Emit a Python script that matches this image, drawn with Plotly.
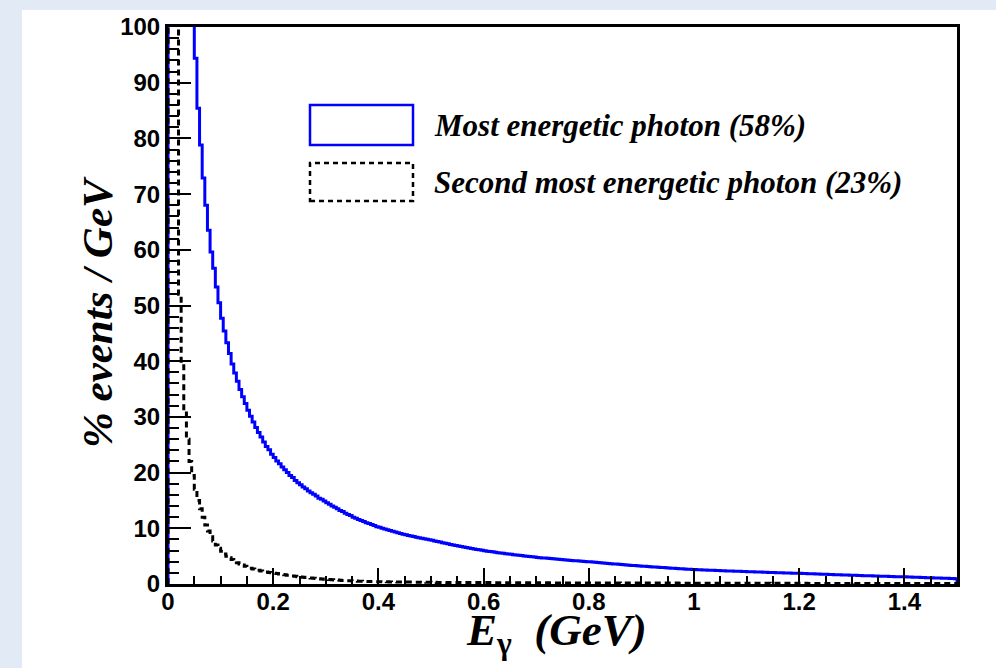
import plotly.graph_objects as go

# ---------------- data ----------------
E_MIN = 0.0
E_MAX = 1.5
N_BINS = 300  # bin width 0.005 GeV

series_names = ["Most energetic photon (58%)", "Second most energetic photon (23%)"]

# % events / GeV, first photon (bins above 100 are off-scale)
most_energetic = [
    4000, 1500, 700, 400, 260, 190, 150, 128, 114, 103,
    94.4, 85.4, 78.8, 72.9, 68.0, 63.5, 59.6, 56.7, 53.3, 50.5,
    47.7, 45.4, 43.3, 41.4, 39.5, 37.9, 36.4, 34.9, 33.6, 32.4,
    31.2, 30.1, 29.1, 28.1, 27.2, 26.4, 25.5, 24.7, 24.1, 23.3,
    22.7, 22.1, 21.6, 21.0, 20.5, 20.0, 19.5, 19.1, 18.6, 18.2,
    17.8, 17.4, 17.1, 16.7, 16.4, 16.1, 15.8, 15.4, 15.2, 14.9,
    14.6, 14.3, 14.0, 13.8, 13.5, 13.2, 13.0, 12.7, 12.5, 12.3,
    12.0, 11.8, 11.6, 11.4, 11.2, 11.0, 10.85, 10.7, 10.5, 10.3,
    10.2, 10.0, 9.87, 9.72, 9.59, 9.45, 9.32, 9.19, 9.06, 8.94,
    8.84, 8.72, 8.61, 8.51, 8.40, 8.31, 8.21, 8.12, 8.02, 7.94,
    7.84, 7.72, 7.61, 7.52, 7.41, 7.32, 7.21, 7.11, 7.00, 6.92,
    6.82, 6.73, 6.65, 6.55, 6.46, 6.37, 6.28, 6.21, 6.13, 6.04,
    5.97, 5.89, 5.83, 5.77, 5.70, 5.63, 5.57, 5.51, 5.45, 5.39,
    5.32, 5.26, 5.21, 5.15, 5.10, 5.03, 4.98, 4.93, 4.88, 4.83,
    4.78, 4.73, 4.69, 4.65, 4.61, 4.56, 4.52, 4.47, 4.43, 4.39,
    4.36, 4.32, 4.28, 4.23, 4.19, 4.17, 4.13, 4.09, 4.05, 4.01,
    3.99, 3.94, 3.89, 3.85, 3.81, 3.77, 3.72, 3.69, 3.64, 3.61,
    3.57, 3.53, 3.49, 3.46, 3.42, 3.38, 3.34, 3.31, 3.27, 3.24,
    3.20, 3.17, 3.13, 3.11, 3.07, 3.04, 3.00, 2.98, 2.94, 2.91,
    2.88, 2.85, 2.82, 2.79, 2.76, 2.73, 2.70, 2.67, 2.64, 2.62,
    2.59, 2.57, 2.55, 2.53, 2.51, 2.49, 2.47, 2.45, 2.44, 2.42,
    2.39, 2.37, 2.35, 2.34, 2.32, 2.30, 2.28, 2.27, 2.25, 2.23,
    2.21, 2.20, 2.18, 2.17, 2.15, 2.14, 2.12, 2.10, 2.08, 2.07,
    2.06, 2.04, 2.02, 2.00, 1.99, 1.98, 1.96, 1.95, 1.94, 1.92,
    1.91, 1.90, 1.87, 1.86, 1.84, 1.82, 1.80, 1.79, 1.77, 1.75,
    1.73, 1.72, 1.70, 1.68, 1.67, 1.64, 1.63, 1.62, 1.60, 1.58,
    1.57, 1.55, 1.53, 1.52, 1.50, 1.48, 1.47, 1.46, 1.45, 1.42,
    1.41, 1.40, 1.38, 1.37, 1.36, 1.34, 1.32, 1.31, 1.30, 1.29,
    1.28, 1.26, 1.24, 1.22, 1.20, 1.19, 1.17, 1.15, 1.14, 1.12,
    1.10, 1.09, 1.07, 1.06, 1.04, 1.02, 1.01, 0.99, 0.98, 0.96,
]

# % events / GeV, second photon
second_energetic = [
    2600, 1100, 420, 120, 52, 40, 31, 26, 22, 19.5,
    17.0, 15.0, 13.5, 12.0, 10.6, 9.5, 8.5, 7.7, 7.0, 6.4,
    5.9, 5.4, 5.0, 4.7, 4.4, 4.1, 3.8, 3.6, 3.4, 3.2,
    3.0, 2.85, 2.7, 2.55, 2.45, 2.35, 2.25, 2.15, 2.05, 2.0,
    1.95, 1.87, 1.79, 1.72, 1.65, 1.58, 1.51, 1.44, 1.38, 1.31,
    1.25, 1.2, 1.15, 1.1, 1.06, 1.02, 0.98, 0.94, 0.9, 0.87,
    0.84, 0.8, 0.77, 0.74, 0.71, 0.68, 0.65, 0.62, 0.6, 0.57,
    0.55, 0.53, 0.51, 0.5, 0.48, 0.47, 0.45, 0.44, 0.42, 0.41,
    0.4, 0.395, 0.39, 0.385, 0.38, 0.375, 0.37, 0.365, 0.36, 0.355,
    0.35, 0.345, 0.34, 0.335, 0.33, 0.325, 0.32, 0.315, 0.31, 0.305,
    0.30, 0.30, 0.29, 0.29, 0.29, 0.29, 0.28, 0.28, 0.28, 0.28,
    0.27, 0.27, 0.27, 0.27, 0.26, 0.26, 0.26, 0.26, 0.25, 0.25,
    0.25, 0.25, 0.25, 0.24, 0.24, 0.24, 0.24, 0.24, 0.23, 0.23,
    0.23, 0.23, 0.23, 0.22, 0.22, 0.22, 0.22, 0.22, 0.22, 0.21,
    0.21, 0.21, 0.21, 0.21, 0.21, 0.20, 0.20, 0.20, 0.20, 0.20,
    0.20, 0.20, 0.19, 0.19, 0.19, 0.19, 0.19, 0.19, 0.19, 0.19,
    0.19, 0.18, 0.18, 0.18, 0.18, 0.18, 0.18, 0.18, 0.18, 0.18,
    0.18, 0.18, 0.17, 0.17, 0.17, 0.17, 0.17, 0.17, 0.17, 0.17,
    0.17, 0.17, 0.17, 0.16, 0.16, 0.16, 0.16, 0.16, 0.16, 0.16,
    0.16, 0.16, 0.16, 0.16, 0.15, 0.15, 0.15, 0.15, 0.15, 0.15,
    0.15, 0.15, 0.15, 0.15, 0.15, 0.14, 0.14, 0.14, 0.14, 0.14,
    0.14, 0.14, 0.14, 0.14, 0.14, 0.14, 0.14, 0.13, 0.13, 0.13,
    0.13, 0.13, 0.13, 0.13, 0.13, 0.13, 0.13, 0.13, 0.13, 0.12,
    0.12, 0.12, 0.12, 0.12, 0.12, 0.12, 0.12, 0.12, 0.12, 0.12,
    0.12, 0.12, 0.12, 0.11, 0.11, 0.11, 0.11, 0.11, 0.11, 0.11,
    0.11, 0.11, 0.11, 0.11, 0.11, 0.11, 0.11, 0.11, 0.11, 0.11,
    0.11, 0.10, 0.10, 0.10, 0.10, 0.10, 0.10, 0.10, 0.10, 0.10,
    0.10, 0.10, 0.10, 0.10, 0.10, 0.10, 0.10, 0.10, 0.10, 0.10,
    0.10, 0.10, 0.10, 0.09, 0.09, 0.09, 0.09, 0.09, 0.09, 0.09,
    0.09, 0.09, 0.09, 0.09, 0.09, 0.09, 0.09, 0.09, 0.09, 0.09,
]

x_tick_vals = [0, 0.2, 0.4, 0.6, 0.8, 1.0, 1.2, 1.4]
x_tick_text = ["0", "0.2", "0.4", "0.6", "0.8", "1", "1.2", "1.4"]
y_tick_vals = [0, 10, 20, 30, 40, 50, 60, 70, 80, 90, 100]
y_tick_text = [str(v) for v in y_tick_vals]

# ---------------- build histogram outlines ----------------
bin_w = (E_MAX - E_MIN) / N_BINS
edges = [E_MIN + i * bin_w for i in range(N_BINS)]


def outline(vals):
    xs = [E_MIN] + edges + [E_MAX, E_MAX]
    ys = [0] + list(vals) + [vals[-1], 0]
    return xs, ys


fig = go.Figure()

bx, by = outline(most_energetic)
fig.add_trace(go.Scatter(x=bx, y=by, mode="lines", line_shape="hv",
                         line=dict(color="#0000ff", width=3),
                         name=series_names[0], showlegend=False))
sx, sy = outline(second_energetic)
fig.add_trace(go.Scatter(x=sx, y=sy, mode="lines", line_shape="hv",
                         line=dict(color="black", width=3, dash="6px,4px"),
                         name=series_names[1], showlegend=False))

# pixel geometry helpers
L, R, T, B = 168, 957, 27, 584
W, H = 996, 668


def px(X):
    return (X - L) / (R - L)


def py(Y):
    return (B - Y) / (B - T)


tick_font = dict(family="Liberation Sans, Arial, sans-serif", size=24,
                 color="black", weight="bold")

fig.update_layout(
    width=W, height=H,
    margin=dict(l=L, r=W - R, t=T, b=H - B, pad=0),
    paper_bgcolor="#e1eaf5",
    plot_bgcolor="white",
    showlegend=False,
    xaxis=dict(range=[E_MIN, E_MAX], showgrid=False, zeroline=False,
               showline=True, linecolor="black", linewidth=3, mirror=True,
               ticks="inside", ticklen=16, tickwidth=1.5, tickcolor="black",
               tickvals=x_tick_vals, ticktext=x_tick_text, tickfont=tick_font,
               ticklabelstandoff=-6,
               minor=dict(dtick=0.05, tick0=0, ticks="inside", ticklen=8,
                          tickwidth=1.5, tickcolor="black")),
    yaxis=dict(range=[0, 100], showgrid=False, zeroline=False,
               showline=True, linecolor="black", linewidth=3, mirror=True,
               ticks="inside", ticklen=23, tickwidth=1.5, tickcolor="black",
               tickvals=y_tick_vals, ticktext=y_tick_text, tickfont=tick_font,
               minor=dict(dtick=2, tick0=0, ticks="inside", ticklen=11,
                          tickwidth=1.5, tickcolor="black")),
)

# white canvas panel
fig.add_shape(type="rect", xref="paper", yref="paper", layer="below",
              x0=px(22), x1=px(1010), y0=py(680), y1=py(10),
              fillcolor="white", line=dict(width=0))

# legend boxes
fig.add_shape(type="rect", xref="paper", yref="paper",
              x0=px(310), x1=px(413), y0=py(145), y1=py(105),
              line=dict(color="#0000ff", width=2.5), fillcolor="rgba(0,0,0,0)")
fig.add_shape(type="rect", xref="paper", yref="paper",
              x0=px(310), x1=px(413), y0=py(201), y1=py(163),
              line=dict(color="black", width=2.5, dash="5px,4px"),
              fillcolor="rgba(0,0,0,0)")

serif = "Liberation Serif, Times New Roman, serif"
fig.add_annotation(xref="paper", yref="paper", x=px(432), y=py(125),
                   xanchor="left", yanchor="middle", showarrow=False,
                   text="<b><i>" + series_names[0] + "</i></b>",
                   font=dict(family=serif, size=31, color="black"))
fig.add_annotation(xref="paper", yref="paper", x=px(432), y=py(182),
                   xanchor="left", yanchor="middle", showarrow=False,
                   text="<b><i>" + series_names[1] + "</i></b>",
                   font=dict(family=serif, size=31, color="black"))

# axis titles
fig.add_annotation(xref="paper", yref="paper", x=px(97), y=py(312),
                   xanchor="center", yanchor="middle", showarrow=False,
                   textangle=-90, text="<b><i>% events / GeV</i></b>",
                   font=dict(family=serif, size=43, color="black"))
fig.add_annotation(xref="paper", yref="paper", x=px(556), y=py(633),
                   xanchor="center", yanchor="middle", showarrow=False,
                   text="<b><i>E</i></b><sub><b>γ</b></sub><b><i>  (GeV)</i></b>",
                   font=dict(family=serif, size=45, color="black"))

fig.write_html("out.html")
